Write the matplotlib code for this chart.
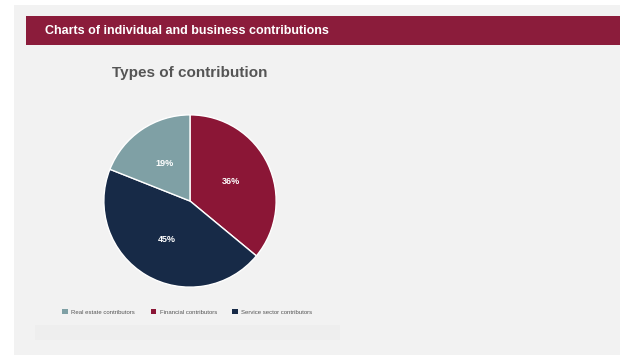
import matplotlib
matplotlib.use("Agg")
import matplotlib.pyplot as plt
from matplotlib.patches import Rectangle, Patch

plt.rcParams['font.family'] = ['Liberation Sans', 'DejaVu Sans']

# data (clockwise from top)
labels = ['Financial contributors', 'Service sector contributors', 'Real estate contributors']
shares = [36, 45, 19]
colors = ['#8b1636', '#172a47', '#7fa0a5']
legend_order = ['Real estate contributors', 'Financial contributors', 'Service sector contributors']

W, H = 620, 355
fig = plt.figure(figsize=(W / 100, H / 100), dpi=100)
fig.patch.set_facecolor('white')

# page panel, header banner, bottom strip (behind the axes)
fig.patches.append(Rectangle((14 / W, -0.01), 1, 1.01 - 5 / H, transform=fig.transFigure,
                             facecolor='#f2f2f2', edgecolor='none', zorder=-3))
fig.patches.append(Rectangle((26 / W, 1 - 45 / H), 1, 29 / H, transform=fig.transFigure,
                             facecolor='#8b1c3b', edgecolor='none', zorder=-2))
fig.patches.append(Rectangle((35 / W, 1 - 340 / H), 305 / W, 15 / H, transform=fig.transFigure,
                             facecolor='#eeeeee', edgecolor='none', zorder=-2))

fig.text(45 / W, 1 - 30.5 / H, 'Charts of individual and business contributions',
         color='white', fontsize=9, fontweight='bold', va='center', ha='left')
fig.text(190 / W, 1 - 73 / H, 'Types of contribution', color='#555555',
         fontsize=11, fontweight='bold', va='center', ha='center')

# pie
r = 87
cx, cy = 190, 201
ax = fig.add_axes([(cx - r) / W, (H - cy - r) / H, 2 * r / W, 2 * r / H])
ax.set_zorder(2)
ax.patch.set_visible(False)
wedges, texts, autotexts = ax.pie(
    shares, colors=colors, startangle=90, counterclock=False,
    autopct='%d%%', pctdistance=0.52, radius=1,
    wedgeprops=dict(edgecolor='white', linewidth=1),
    textprops=dict(color='white', fontsize=6.5, fontweight='bold'))
ax.set_xlim(-1.01, 1.01)
ax.set_ylim(-1.01, 1.01)
ax.set_aspect('equal')
ax.axis('off')

# legend
handles = [Patch(facecolor=colors[labels.index(l)], edgecolor='none') for l in legend_order]
fig.legend(handles, legend_order, loc='center left',
           bbox_to_anchor=(57 / W, 1 - 312 / H), ncol=3, frameon=False,
           fontsize=4.3, labelcolor='#555555', handlelength=0.9, handleheight=0.9,
           handletextpad=0.6, columnspacing=2.6)

fig.savefig('out.png', dpi=100, facecolor=fig.get_facecolor())
